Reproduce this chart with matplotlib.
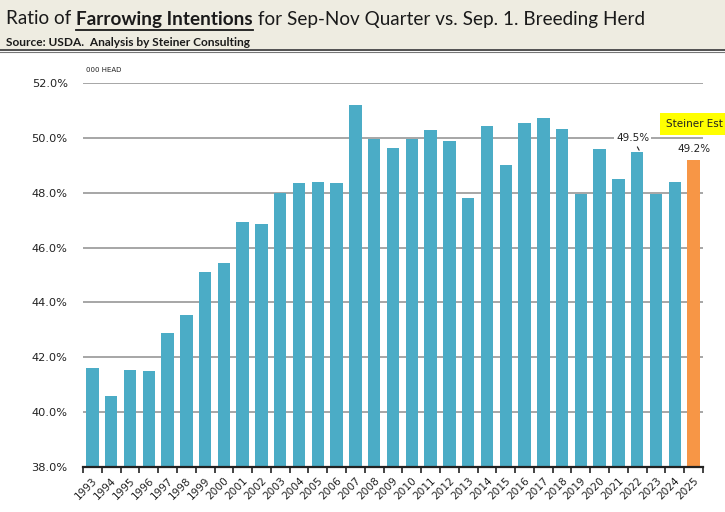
import matplotlib
matplotlib.use("Agg")
import matplotlib.pyplot as plt
from matplotlib.patches import Rectangle
from matplotlib.lines import Line2D
import numpy as np

years = [str(y) for y in range(1993, 2026)]
ratios = [41.6, 40.6, 41.55, 41.5, 42.9, 43.55, 45.1, 45.45, 46.95, 46.85,
          48.0, 48.35, 48.4, 48.35, 51.2, 49.97, 49.63, 49.96, 50.3, 49.9,
          47.8, 50.42, 49.0, 50.55, 50.73, 50.32, 47.95, 49.6, 48.5, 49.5,
          47.95, 48.4, 49.2]
estimate_flags = [False] * 32 + [True]
yticks = [38, 40, 42, 44, 46, 48, 50, 52]
title_parts = ["Ratio of ", "Farrowing Intentions", " for Sep-Nov Quarter vs. Sep. 1. Breeding Herd"]
source_text = "Source: USDA.  Analysis by Steiner Consulting"

W, H = 725, 512
fig = plt.figure(figsize=(W / 100, H / 100), dpi=100)
fig.patch.set_facecolor("white")

# header band
fig.add_artist(Rectangle((0, 1 - 49 / H), 1, 49 / H, transform=fig.transFigure,
                         facecolor="#eeece1", edgecolor="none", zorder=0))
fig.add_artist(Line2D([0, 1], [1 - 49.5 / H, 1 - 49.5 / H], transform=fig.transFigure,
                      color="#333333", lw=1.2))
fig.add_artist(Line2D([0, 1], [1 - 51.5 / H, 1 - 51.5 / H], transform=fig.transFigure,
                      color="#777777", lw=0.8))

# title pieces
fig.canvas.draw()
renderer = fig.canvas.get_renderer()
x = 6 / W
ty = 1 - 19 / H
tfont = dict(family="Lato", size=13.6, color="#1a1a1a", va="center", ha="left")
for i, part in enumerate(title_parts):
    t = fig.text(x, ty, part, fontweight=("bold" if i == 1 else "normal"), **tfont)
    bb = t.get_window_extent(renderer)
    w = bb.width / W
    if i == 1:
        fig.add_artist(Line2D([x, x + w], [1 - 30 / H, 1 - 30 / H],
                              transform=fig.transFigure, color="#1a1a1a", lw=1.3))
    x += w
fig.text(6 / W, 1 - 42 / H, source_text, family="Lato", fontsize=8.6, fontweight="bold",
         color="#1a1a1a", va="center", ha="left")

ax = fig.add_axes([83 / W, 1 - 467 / H, (703 - 83) / W, (467 - 83) / H])
xpos = np.arange(len(years))
colors = ["#f79646" if e else "#4bacc6" for e in estimate_flags]
ax.bar(xpos, ratios, width=0.66, color=colors, zorder=3)
ax.set_xlim(-0.5, len(years) - 0.5)
ax.set_ylim(38, 52)
ax.set_yticks(yticks)
ax.set_yticklabels([f"{v:.1f}%" for v in yticks], fontsize=8.2, color="#222222",
                   family="DejaVu Sans")
ax.yaxis.grid(True, color="#a6a6a6", lw=1.4, zorder=0)
ax.tick_params(axis="y", length=0, pad=11)
ax.set_xticks(xpos)
ax.set_xticklabels(years, rotation=45, ha="right", rotation_mode="anchor",
                   fontsize=7.6, color="#222222", family="DejaVu Sans")
ax.set_xticks(np.arange(-0.5, len(years), 1.0), minor=True)
ax.tick_params(axis="x", which="major", length=0, pad=6)
ax.tick_params(axis="x", which="minor", length=4, width=1.2, color="#222222")
for s in ["top", "right", "left"]:
    ax.spines[s].set_visible(False)
ax.spines["bottom"].set_color("#222222")
ax.spines["bottom"].set_linewidth(1.6)
ax.spines["bottom"].set_zorder(4)
ax.set_facecolor("none")

ax.text(0.005, 1.033, "000 HEAD", transform=ax.transAxes, fontsize=5, color="#222222",
        ha="left", va="center")

# labels
i22 = years.index("2022")
ax.annotate(f"{ratios[i22]:.1f}%", xy=(i22 + 0.1, ratios[i22] + 0.05),
            xytext=(i22 - 0.25, ratios[i22] + 0.5), fontsize=7.5, color="#222222",
            ha="center", va="center",
            bbox=dict(boxstyle="square,pad=0.15", fc="white", ec="none"),
            arrowprops=dict(arrowstyle="-", color="#222222", lw=0.8,
                            shrinkA=2, shrinkB=0), zorder=5)
i25 = years.index("2025")
ax.text(i25, ratios[i25] + 0.2, f"{ratios[i25]:.1f}%", fontsize=7.5, color="#222222",
        ha="center", va="bottom", zorder=5)
ax.text(i25 + 0.05, 50.5, "Steiner Est", fontsize=7.5, color="#222222",
        ha="center", va="center", clip_on=False, zorder=6,
        bbox=dict(boxstyle="square,pad=0.55", fc="#ffff00", ec="none"))

fig.savefig("out.png", dpi=100)
